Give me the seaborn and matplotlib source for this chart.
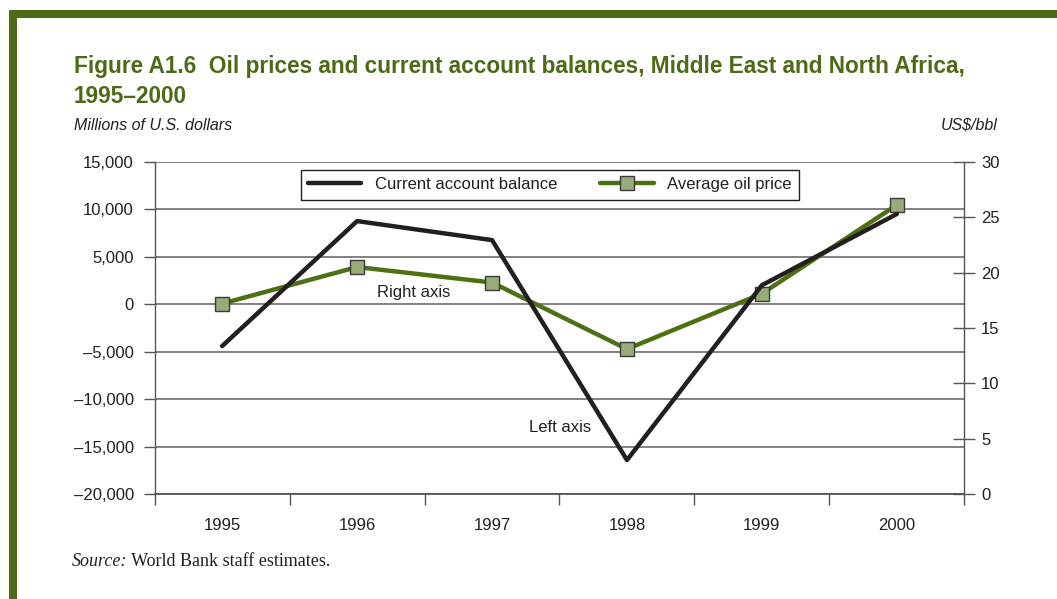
import matplotlib
matplotlib.use("Agg")
import matplotlib.pyplot as plt
from matplotlib.lines import Line2D
from matplotlib.patches import Rectangle
from matplotlib.ticker import FixedLocator, NullFormatter
import numpy as np
import pandas as pd
import seaborn as sns

# ---- data -------------------------------------------------------------
years = ["1995", "1996", "1997", "1998", "1999", "2000"]
current_account = [-4400, 8750, 6750, -16400, 2000, 9500]   # millions of US$
oil_price = [17.2, 20.5, 19.1, 13.1, 18.1, 26.1]             # US$/bbl

left_ticks = [15000, 10000, 5000, 0, -5000, -10000, -15000, -20000]
right_ticks = [0, 5, 10, 15, 20, 25, 30]

df = pd.DataFrame({"pos": np.arange(len(years)),
                   "year": years,
                   "ca": current_account,
                   "oil": oil_price})

# ---- style ------------------------------------------------------------
sns.set_theme(style="white")
plt.rcParams["font.family"] = ["Liberation Sans", "DejaVu Sans"]
plt.rcParams["text.color"] = "#231f20"
plt.rcParams["axes.labelcolor"] = "#231f20"
plt.rcParams["xtick.color"] = "#231f20"
plt.rcParams["ytick.color"] = "#231f20"

GREEN_DARK = "#4d6b17"
GREEN_LINE = "#4d7013"
MARKER_FACE = "#98ac78"
INK = "#231f20"
GRID = "#777777"
AXIS = "#555555"

fig = plt.figure(figsize=(10.57, 5.99), dpi=100)
fig.patch.set_facecolor("white")

# green frame along the top and left edge
fig.add_artist(Rectangle((9 / 1057, 1 - 17.5 / 599), 1 - 9 / 1057, 8 / 599,
                         transform=fig.transFigure, color=GREEN_DARK, lw=0))
fig.add_artist(Rectangle((9 / 1057, 0), 7.5 / 1057, 1 - 10 / 599,
                         transform=fig.transFigure, color=GREEN_DARK, lw=0))

rect = [154.7 / 1057, 1 - 494.3 / 599, 809.6 / 1057, 332.6 / 599]

# base axes: left scale, gridlines and ticks
ax = fig.add_axes(rect)
# oil price on the right scale
ax_oil = ax.twinx()
# current account drawn on top, sharing the left scale
ax_ca = ax.twinx()

xlim = (-0.5, len(years) - 0.5)
ylim_left = (-20000, 15000)
ylim_right = (0, 30)

for a in (ax, ax_oil, ax_ca):
    a.set_facecolor("none")
    for s in a.spines.values():
        s.set_visible(False)

# series
sns.lineplot(data=df, x="pos", y="oil", ax=ax_oil, color=GREEN_LINE, lw=3.2,
             marker="s", markersize=10, markerfacecolor=MARKER_FACE,
             markeredgecolor="#3a3a3a", markeredgewidth=1.0, legend=False)
sns.lineplot(data=df, x="pos", y="ca", ax=ax_ca, color=INK, lw=3.2,
             legend=False)

for a in (ax, ax_oil, ax_ca):
    a.set_xlabel("")
    a.set_ylabel("")
ax.set_xlim(*xlim)
ax.set_ylim(*ylim_left)
ax_ca.set_ylim(*ylim_left)
ax_oil.set_ylim(*ylim_right)

# gridlines at the left-axis ticks
for v in left_ticks:
    ax.axhline(v, color=GRID, lw=1.3, zorder=0)

ax.spines["left"].set_visible(True)
ax.spines["bottom"].set_visible(True)
ax.spines["left"].set_color(AXIS)
ax.spines["bottom"].set_color(AXIS)
ax.spines["left"].set_linewidth(1.0)
ax.spines["bottom"].set_linewidth(1.3)
ax_oil.spines["right"].set_visible(True)
ax_oil.spines["right"].set_color(AXIS)
ax_oil.spines["right"].set_linewidth(1.0)

# left ticks
ax.set_yticks(left_ticks)
ax.set_yticklabels([f"{v:,}".replace("-", "\u2013") for v in left_ticks], fontsize=12)
ax.tick_params(axis="y", which="major", direction="out", length=8, width=1.0,
               color=AXIS, pad=7, left=True, right=False)

# right ticks
ax_oil.set_yticks(right_ticks)
ax_oil.set_yticklabels([str(v) for v in right_ticks], fontsize=12)
ax_oil.tick_params(axis="y", which="major", direction="inout", length=16, width=1.0,
                   color=AXIS, pad=4, right=True, left=False)
ax_ca.set_yticks([])

# x axis: labels at category centres, tick marks on category boundaries
ax.set_xticks(df["pos"])
ax.set_xticklabels(years, fontsize=12)
ax.tick_params(axis="x", which="major", length=0, pad=17)
ax.xaxis.set_minor_locator(FixedLocator(np.arange(len(years) + 1) - 0.5))
ax.xaxis.set_minor_formatter(NullFormatter())
ax.tick_params(axis="x", which="minor", direction="out", length=8, width=1.0,
               color=AXIS, bottom=True)

# series annotations
ax_ca.text(1.42, 1210, "Right axis", ha="center", va="center", fontsize=12, color=INK)
ax_ca.text(2.505, -12960, "Left axis", ha="center", va="center", fontsize=12, color=INK)

# legend
handles = [
    Line2D([], [], color=INK, lw=3.2),
    Line2D([], [], color=GREEN_LINE, lw=3.2, marker="s", markersize=10,
           markerfacecolor=MARKER_FACE, markeredgecolor="#3a3a3a", markeredgewidth=1.0),
]
leg = ax_ca.legend(handles, ["Current account balance", "Average oil price"],
                   loc="upper center", bbox_to_anchor=(0.488, 0.976), ncol=2,
                   fontsize=12, frameon=True, fancybox=False, handlelength=3.2,
                   columnspacing=2.6, borderpad=0.45, handletextpad=0.8,
                   borderaxespad=0)
leg.get_frame().set_edgecolor(INK)
leg.get_frame().set_linewidth(1.0)
leg.get_frame().set_facecolor("white")
leg.get_frame().set_alpha(1)

# title and unit labels
fig.text(74 / 1057, 1 - 55 / 599,
         "Figure A1.6  Oil prices and current account balances, Middle East and North Africa,\n1995\u20132000",
         ha="left", va="top", fontsize=16.3, fontweight="bold", color=GREEN_DARK,
         linespacing=1.4)
fig.text(74 / 1057, 1 - 125 / 599, "Millions of U.S. dollars", ha="left", va="center",
         fontsize=11.5, style="italic", color=INK)
fig.text(998 / 1057, 1 - 125 / 599, "US$/bbl", ha="right", va="center",
         fontsize=11.5, style="italic", color=INK)

# source note
src_y = 1 - 561 / 599
t1 = fig.text(72 / 1057, src_y, "Source:", ha="left", va="center", fontsize=13,
              style="italic", family=["Liberation Serif", "DejaVu Serif"], color=INK)
fig.canvas.draw()
bb = t1.get_window_extent()
fig.text(bb.x1 / fig.bbox.width, src_y, " World Bank staff estimates.", ha="left",
         va="center", fontsize=13, family=["Liberation Serif", "DejaVu Serif"], color=INK)

fig.savefig("out.png", dpi=100, facecolor="white")
